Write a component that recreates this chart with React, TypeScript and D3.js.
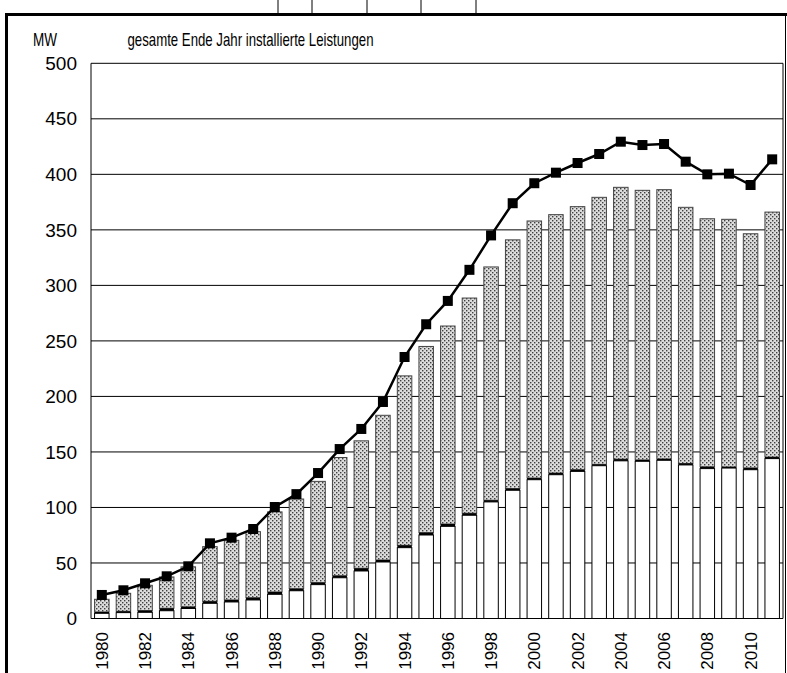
import React from "react";
import * as d3 from "d3";

const years = d3.range(1980, 2012).map(String);
// white base segment (MW)
const baseValues = [4.7, 5.3, 5.6, 7, 9, 13.7, 14.9, 16.7, 21.8, 25, 30.5, 36.7, 42.8, 50.9, 63.8, 75.2, 83, 93, 105, 115.5, 125, 129.5, 132.5, 137.6, 142, 141.6, 142.5, 138.3, 135, 135.5, 134, 144];
// thin black segment (MW)
const blackValues = [1.2, 1.2, 1.5, 2.2, 1.5, 1.8, 1.8, 2, 2.1, 1.8, 1.8, 1.8, 2.4, 1.8, 2.1, 2.1, 2.1, 1.8, 1.5, 1.5, 1.5, 1.5, 1.5, 1.2, 1.5, 1.2, 1.2, 1.3, 1.6, 1.0, 1.6, 1.4];
// dotted segment (MW)
const dottedValues = [11.4, 16.2, 22.8, 28.2, 36, 49.2, 53.7, 59.5, 72.1, 80.8, 91.2, 106.5, 114.8, 130.3, 152.6, 167.7, 178.3, 193.8, 210.1, 224, 231.5, 232.7, 236.9, 240.5, 244.8, 242.8, 242.5, 230.7, 223.4, 223, 210.9, 220.6];
// total installed capacity line (MW)
const totalValues = [21.2, 25.4, 31.7, 38, 47, 67.7, 72.8, 80.6, 100.4, 112, 131, 152.6, 170.7, 195, 235.5, 265, 286, 314, 345, 374, 392, 401.5, 410.2, 418.3, 429.4, 426.4, 427.3, 411.4, 400, 400.6, 390.4, 413.5];
const yTicks = [0, 50, 100, 150, 200, 250, 300, 350, 400, 450, 500];
const unitLabel = "MW";
const titleText = "gesamte Ende Jahr installierte Leistungen";

const W = 787, H = 673;
const L = 91, R = 783, T = 63.3, B = 618.5;

export default function App() {
  const x = d3.scaleBand<string>().domain(years).range([L, R]).paddingInner(0.33).paddingOuter(0.165);
  const y = d3.scaleLinear().domain([0, 500]).range([B, T]);
  const bw = x.bandwidth();
  const line = d3.line<number>().x((_, i) => x(years[i])! + bw / 2).y(d => y(d));
  const font = "'Liberation Sans', Arial, sans-serif";

  return (
    <svg width={W} height={H} style={{ position: "absolute", left: 0, top: 0, background: "#fff" }} fontFamily={font}>
      <defs>
        <pattern id="dots" width={4} height={4} patternUnits="userSpaceOnUse">
          <rect width={4} height={4} fill="#dcdcdc" />
          <rect x={0} y={0} width={1.4} height={1.4} fill="#404040" />
          <rect x={2} y={2} width={1.4} height={1.4} fill="#404040" />
        </pattern>
      </defs>
      <rect width={W} height={H} fill="#fff" />
      {/* outer frame remnants */}
      {[278, 312, 367, 421, 476].map(v => (
        <line key={v} x1={v} x2={v} y1={0} y2={14} stroke="#000" strokeWidth={1} />
      ))}
      <line x1={5} x2={W} y1={14.5} y2={14.5} stroke="#000" strokeWidth={3} />
      <line x1={6.5} x2={6.5} y1={13} y2={H} stroke="#000" strokeWidth={3} />
      <line x1={785.5} x2={785.5} y1={13} y2={H} stroke="#000" strokeWidth={1} />

      {/* gridlines */}
      {yTicks.filter(t => t > 0).map(t => (
        <line key={t} x1={L} x2={R} y1={y(t)} y2={y(t)} stroke="#000" strokeWidth={1} />
      ))}
      <line x1={R} x2={R} y1={T} y2={B} stroke="#000" strokeWidth={1} />

      {/* bars */}
      {years.map((yr, i) => {
        const x0 = x(yr)!;
        const b0 = 0, b1 = baseValues[i], b2 = b1 + blackValues[i], b3 = b2 + dottedValues[i];
        return (
          <g key={yr}>
            <rect x={x0} y={y(b3)} width={bw} height={y(b2) - y(b3)} fill="url(#dots)" stroke="#444" strokeWidth={1} />
            <rect x={x0} y={y(b1)} width={bw} height={y(b0) - y(b1)} fill="#fff" stroke="#000" strokeWidth={1} />
            <rect x={x0} y={y(b2)} width={bw} height={y(b1) - y(b2)} fill="#000" />
          </g>
        );
      })}

      {/* axes */}
      <line x1={L} x2={L} y1={T} y2={B} stroke="#000" strokeWidth={1} />
      <line x1={L} x2={R} y1={B} y2={B} stroke="#000" strokeWidth={1} />

      {/* total line */}
      <path d={line(totalValues) || ""} fill="none" stroke="#000" strokeWidth={2.5} />
      {totalValues.map((v, i) => (
        <rect key={i} x={x(years[i])! + bw / 2 - 5} y={y(v) - 5} width={10} height={10} fill="#000" />
      ))}

      {/* y tick labels */}
      {yTicks.map(t => (
        <text key={t} x={77} y={y(t)} dy="0.35em" textAnchor="end" fontSize={19}>{t}</text>
      ))}
      {/* x labels */}
      {years.map((yr, i) => i % 2 === 0 ? (
        <text key={yr} transform={`translate(${x(yr)! + bw / 2},632) rotate(-90)`} dy="0.35em" textAnchor="end" fontSize={17}>{yr}</text>
      ) : null)}

      <text x={33} y={45.5} fontSize={19} textLength={24} lengthAdjust="spacingAndGlyphs">{unitLabel}</text>
      <text x={127.5} y={45.5} fontSize={19} textLength={246} lengthAdjust="spacingAndGlyphs">{titleText}</text>
    </svg>
  );
}
